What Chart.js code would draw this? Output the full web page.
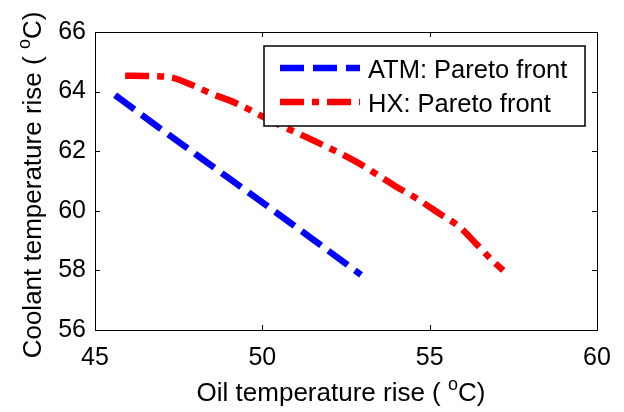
<!DOCTYPE html>
<html>
<head>
<meta charset="utf-8">
<script src="https://cdn.jsdelivr.net/npm/chart.js@4/dist/chart.umd.min.js"></script>
<style>
body{margin:0;background:#fff;}
#wrap{width:624px;height:412px;}
</style>
</head>
<body>
<div id="wrap"><canvas id="myChart"></canvas></div>
<script>
// ATM: Pareto front
var atmX = [45.6, 47.0, 48.5, 50.0, 51.5, 52.95];
var atmY = [63.88, 62.72, 61.5, 60.28, 59.05, 57.85];
// HX: Pareto front
var hxX = [45.9, 46.6, 47.3, 47.9, 48.5, 49.2, 50.2, 51.6, 52.8, 54.0, 54.6, 55.3, 55.9, 56.4, 56.9, 57.2];
var hxY = [64.53, 64.52, 64.47, 64.22, 63.92, 63.62, 63.05, 62.32, 61.65, 60.81, 60.42, 59.9, 59.45, 58.88, 58.3, 58.0];
var seriesNames = ["ATM: Pareto front", "HX: Pareto front"];
// axes
var xTicks = [45, 50, 55, 60];
var yTicks = [56, 58, 60, 62, 64, 66];
var xTitle = ["Oil temperature rise ( ", "o", "C)"];
var yTitle = ["Coolant temperature rise ( ", "o", "C)"];

var FONT = "'Liberation Sans', Arial, Helvetica, sans-serif";

function toPoints(xs, ys) {
    var pts = [];
    for (var i = 0; i < xs.length; i++) pts.push({x: xs[i], y: ys[i]});
    return pts;
}

// draws "text ( oC)" with a raised small o, centred on x
function drawSupTitle(ctx, parts, x, y) {
    var big = "26px " + FONT, small = "18px " + FONT;
    ctx.font = big;
    var w0 = ctx.measureText(parts[0]).width;
    var w2 = ctx.measureText(parts[2]).width;
    ctx.font = small;
    var w1 = ctx.measureText(parts[1]).width;
    var left = x - (w0 + w1 + w2) / 2;
    ctx.textAlign = "left";
    ctx.textBaseline = "alphabetic";
    ctx.font = big;
    ctx.fillText(parts[0], left, y);
    ctx.font = small;
    ctx.fillText(parts[1], left + w0, y - 11);
    ctx.font = big;
    ctx.fillText(parts[2], left + w0 + w1, y);
}

var matlabStyle = {
    id: "matlabStyle",
    afterDatasetsDraw: function(chart) {
        var ctx = chart.ctx, a = chart.chartArea;
        var xs = chart.scales.x, ys = chart.scales.y;
        ctx.save();
        // box
        ctx.strokeStyle = "#000";
        ctx.lineWidth = 1;
        ctx.setLineDash([]);
        ctx.strokeRect(a.left + 0.5, a.top + 0.5, a.right - a.left, a.bottom - a.top);
        // inward ticks on all sides
        ctx.beginPath();
        xTicks.forEach(function(v) {
            var px = Math.round(xs.getPixelForValue(v)) + 0.5;
            ctx.moveTo(px, a.bottom); ctx.lineTo(px, a.bottom - 5);
            ctx.moveTo(px, a.top); ctx.lineTo(px, a.top + 5);
        });
        yTicks.forEach(function(v) {
            var py = Math.round(ys.getPixelForValue(v)) + 0.5;
            ctx.moveTo(a.left, py); ctx.lineTo(a.left + 5, py);
            ctx.moveTo(a.right, py); ctx.lineTo(a.right - 5, py);
        });
        ctx.stroke();

        // legend
        var lx = 264, ly = 46, lw = 321, lh = 80;
        ctx.fillStyle = "#fff";
        ctx.fillRect(lx, ly, lw, lh);
        ctx.strokeStyle = "#000";
        ctx.lineWidth = 1.5;
        ctx.strokeRect(lx, ly, lw, lh);
        var rows = [68, 102];
        chart.data.datasets.forEach(function(ds, i) {
            ctx.strokeStyle = ds.borderColor;
            ctx.lineWidth = ds.borderWidth;
            ctx.setLineDash(ds.borderDash);
            ctx.beginPath();
            ctx.moveTo(280, rows[i]);
            ctx.lineTo(360, rows[i]);
            ctx.stroke();
            ctx.setLineDash([]);
            ctx.fillStyle = "#000";
            ctx.font = "25.5px " + FONT;
            ctx.textAlign = "left";
            ctx.textBaseline = "alphabetic";
            ctx.fillText(ds.label, 368, rows[i] + 10);
        });

        // axis titles
        ctx.fillStyle = "#000";
        drawSupTitle(ctx, xTitle, 341, 401);
        ctx.translate(41, 185);
        ctx.rotate(-Math.PI / 2);
        drawSupTitle(ctx, yTitle, 0, 0);
        ctx.restore();
    }
};

var ctx = document.getElementById("myChart").getContext("2d");
var myChart = new Chart(ctx, {
    type: "scatter",
    data: {
        datasets: [{
            label: seriesNames[0],
            data: toPoints(atmX, atmY),
            showLine: true,
            borderColor: "#0000ff",
            borderWidth: 6.5,
            borderDash: [24, 9],
            pointRadius: 0,
            fill: false,
            cubicInterpolationMode: "monotone"
        }, {
            label: seriesNames[1],
            data: toPoints(hxX, hxY),
            showLine: true,
            borderColor: "#ff0000",
            borderWidth: 6.5,
            borderDash: [24, 8, 7, 8],
            pointRadius: 0,
            fill: false,
            cubicInterpolationMode: "monotone"
        }]
    },
    options: {
        responsive: true,
        maintainAspectRatio: false,
        animation: false,
        layout: {padding: {top: 32, right: 27, left: 0, bottom: 0}},
        plugins: {
            legend: {display: false},
            tooltip: {enabled: false}
        },
        scales: {
            x: {
                type: "linear",
                min: 45, max: 60,
                afterBuildTicks: function(s) { s.ticks = xTicks.map(function(v) { return {value: v}; }); },
                afterFit: function(s) { s.height = 82; },
                grid: {display: false, drawTicks: false},
                border: {display: false},
                ticks: {color: "#000", padding: 13, font: {family: FONT, size: 25}}
            },
            y: {
                type: "linear",
                min: 56, max: 66,
                afterBuildTicks: function(s) { s.ticks = yTicks.map(function(v) { return {value: v}; }); },
                afterFit: function(s) { s.width = 95; },
                grid: {display: false, drawTicks: false},
                border: {display: false},
                ticks: {color: "#000", padding: 9, font: {family: FONT, size: 25}}
            }
        }
    },
    plugins: [matlabStyle]
});
</script>
</body>
</html>
